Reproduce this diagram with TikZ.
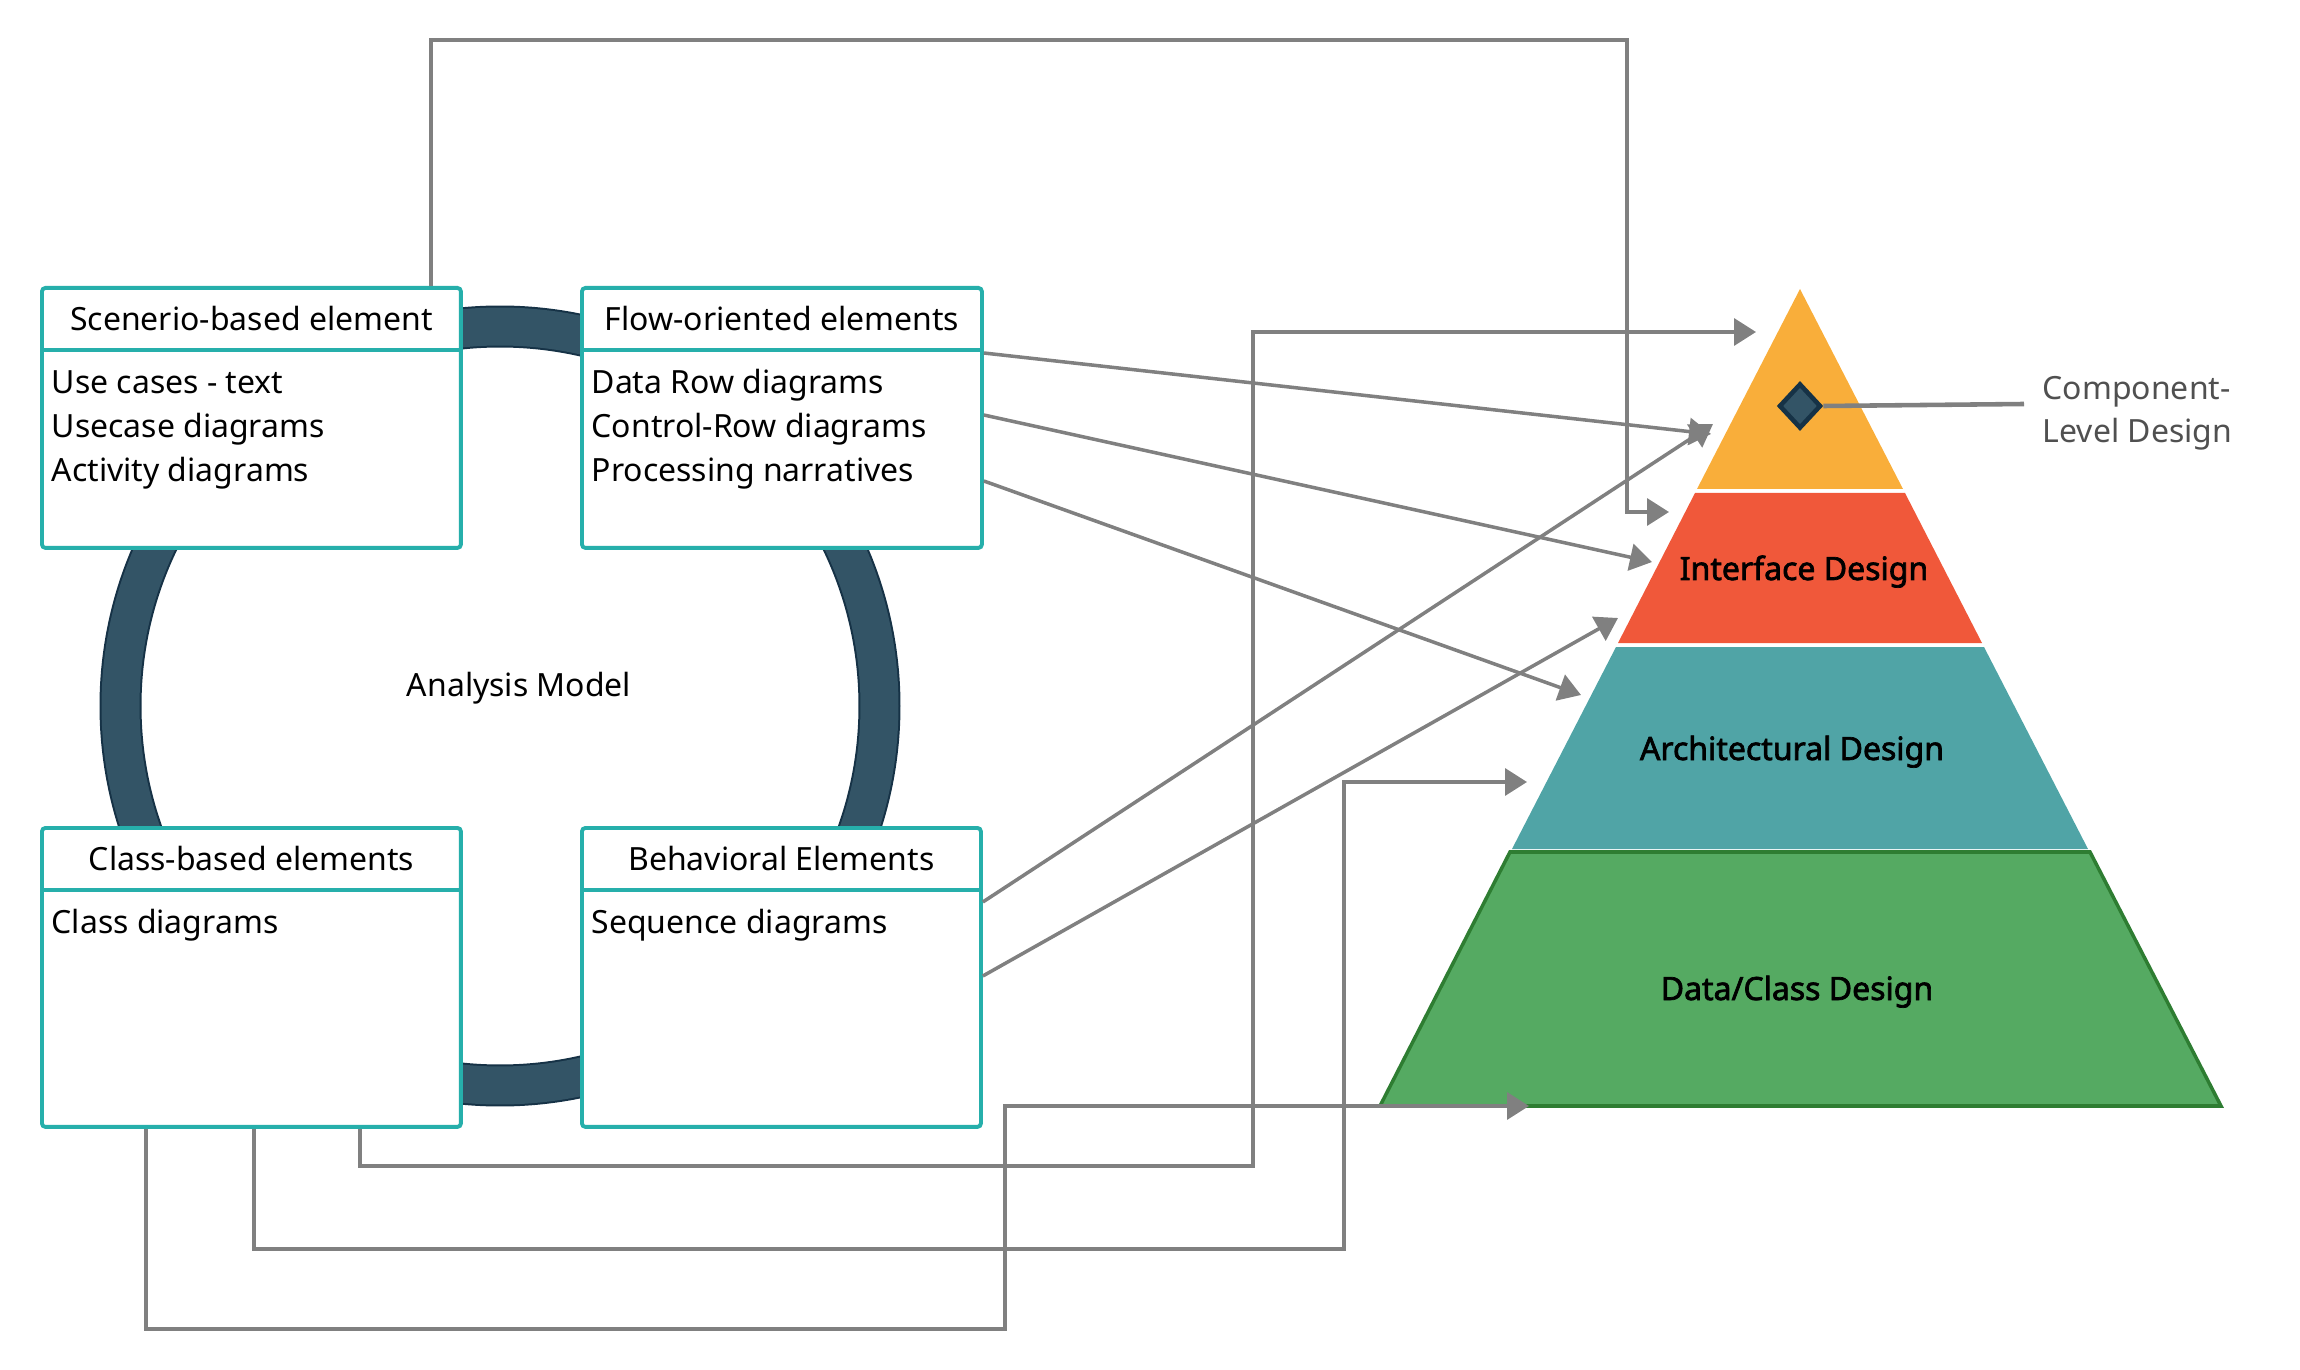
\documentclass[tikz,border=0pt]{standalone}
\usepackage{fontspec}
\setmainfont{Noto Sans}
\newfontfamily\lvlfont{Noto Sans}[FakeBold=2.2]
\usetikzlibrary{arrows.meta,shapes.geometric,calc}
\definecolor{boxteal}{HTML}{26AFAB}
\definecolor{ringfill}{HTML}{335466}
\definecolor{ringedge}{HTML}{163246}
\definecolor{linkgray}{HTML}{808080}
\definecolor{pyrorange}{HTML}{F9AE3A}
\definecolor{pyrred}{HTML}{F0583A}
\definecolor{pyrteal}{HTML}{50A4A6}
\definecolor{pyrgreen}{HTML}{55AA62}
\definecolor{pyredge}{HTML}{2E7D32}
\definecolor{comptext}{HTML}{505050}

\begin{document}
\begin{tikzpicture}[x=0.1mm,y=-0.1mm,font=\fontsize{9.1}{12.5}\selectfont,
		elembox/.style={draw=boxteal,line width=1.1pt,fill=white,rounded corners=1pt,inner sep=0pt,anchor=north west},
		hdrline/.style={draw=boxteal,line width=1.1pt},
		hdr/.style={anchor=base,inner sep=0pt},
		bodytxt/.style={anchor=base west,inner sep=0pt,align=left},
		lvl/.style={anchor=base,inner sep=0pt,font=\lvlfont\fontsize{9.1}{12.5}\selectfont},
		link/.style={draw=linkgray,line width=1pt},
		linkarr/.style={link,-{Triangle[length=2.2mm,width=2.7mm]}}]
			\useasboundingbox (0,0) rectangle (2300,1370);
			\draw[line width=4.2mm,ringedge] (500,706) circle[radius=37.95mm];
			\draw[line width=3.8mm,ringfill] (500,706) circle[radius=37.95mm];
			\node (anmod) at (519,688) {Analysis Model};
			\node[elembox,minimum width=41.9mm,minimum height=26mm] (scen) at (40,286) {};
			\node[elembox,minimum width=40mm,minimum height=26mm] (flow) at (580,286) {};
			\node[elembox,minimum width=41.9mm,minimum height=29.9mm] (cls) at (40,826) {};
			\node[elembox,minimum width=39.9mm,minimum height=29.9mm] (behav) at (580,826) {};
			\foreach \b in {scen,flow,cls,behav}
				\draw[hdrline] ([yshift=-6.4mm]\b.north west) -- ([yshift=-6.4mm]\b.north east);
			\node[hdr] (scenhd) at ($(scen.north)+(0,44)$) {Scenerio-based element};
			\node[hdr] (flowhd) at ($(flow.north)+(0,44)$) {Flow-oriented elements};
			\node[hdr] (clshd) at ($(cls.north)+(0,44)$) {Class-based elements};
			\node[hdr] (behavhd) at ($(behav.north)+(0,44)$) {Behavioral Elements};
			\node[bodytxt] (scenbd) at (51,481) {Use cases - text\\Usecase diagrams\\Activity diagrams};
			\node[bodytxt] (flowbd) at (591,481) {Data Row diagrams\\Control-Row diagrams\\Processing narratives};
			\node[bodytxt] (clsbd) at (51,933) {Class diagrams};
			\node[bodytxt] (behavbd) at (591,933) {Sequence diagrams};
			\fill[pyrorange] (1800,289) -- (1903,489) -- (1697,489) -- cycle;
			\fill[pyrred] (1695,493) -- (1905,493) -- (1982,643) -- (1618,643) -- cycle;
			\fill[pyrteal] (1616,647) -- (1984,647) -- (2088,849) -- (1512,849) -- cycle;
			\filldraw[fill=pyrgreen,draw=pyredge,line width=1pt] (1510,852) -- (2090,852) -- (2221,1106) -- (1380,1106) -- cycle;
			\node[lvl] (iface) at (1804,580) {Interface Design};
			\node[lvl] (arch) at (1792,760) {Architectural Design};
			\node[lvl] (data) at (1797,1000) {Data/Class Design};
			\node[diamond,draw=ringedge,line width=1.3pt,fill=ringfill,inner sep=0pt,minimum width=4.2mm,minimum height=4.5mm] (comp) at (1800,406) {};
			\node[anchor=base west,inner sep=0pt,align=left,text=comptext] (complbl) at (2042,443) {Component-\\Level Design};
			\coordinate (compend) at (2024,404);
			\draw[draw=linkgray,line width=1.3pt] (comp.east) -- (compend);
			\coordinate (tipIfaceA) at (1669,512);
			\coordinate (tipOrangeA) at (1756,332);
			\coordinate (tipArchA) at (1527,782);
			\coordinate (tipDataA) at (1529,1106);
			\coordinate (tipOrangeB) at (1711,434);
			\coordinate (tipIfaceB) at (1652,562);
			\coordinate (tipArchB) at (1581,695);
			\coordinate (tipOrangeC) at (1713,424);
			\coordinate (tipIfaceC) at (1618,618);
			\draw[linkarr] ([xshift=-3.2mm]scen.north east) |- (1627,40) |- (tipIfaceA);
			\draw[linkarr] ([xshift=-10.3mm]cls.south east) |- (1253,1166) |- (tipOrangeA);
			\draw[linkarr] ([xshift=-20.9mm]cls.south east) |- (1344,1249) |- (tipArchA);
			\draw[linkarr] ([xshift=10.6mm]cls.south west) |- (1005,1329) |- (tipDataA);
			\draw[linkarr] ([yshift=-6.7mm]flow.north east) -- (tipOrangeB);
			\draw[linkarr] ([yshift=-12.9mm]flow.north east) -- (tipIfaceB);
			\draw[linkarr] ([yshift=-19.5mm]flow.north east) -- (tipArchB);
			\draw[linkarr] ([yshift=-7.6mm]behav.north east) -- (tipOrangeC);
			\draw[linkarr] ([yshift=-15mm]behav.north east) -- (tipIfaceC);
		\end{tikzpicture}
\end{document}
